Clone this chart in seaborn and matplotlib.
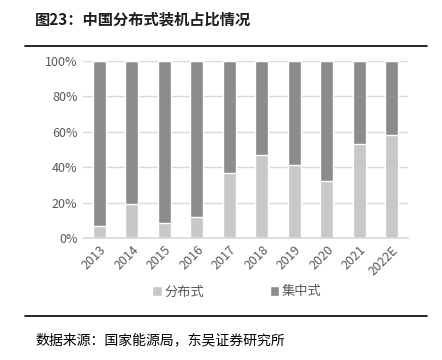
import matplotlib
matplotlib.use("Agg")
import matplotlib.pyplot as plt
import seaborn as sns
import pandas as pd
from matplotlib.patches import Patch
from matplotlib.lines import Line2D

years = ["2013", "2014", "2015", "2016", "2017", "2018", "2019", "2020", "2021", "2022E"]
distributed = [0.07, 0.19, 0.087, 0.12, 0.37, 0.47, 0.41, 0.32, 0.533, 0.58]
centralized = [1 - v for v in distributed]

sns.set_theme(style="white")
plt.rcParams['font.family'] = ['Noto Sans CJK SC', 'DejaVu Sans']

df = pd.DataFrame({"year": years, "dist": distributed, "cent": centralized})
df["total"] = df["dist"] + df["cent"]

fig = plt.figure(figsize=(4.42, 3.6), dpi=100)
ax = fig.add_axes([83/442, 1-238/360, 325/442, (238-61)/360])

light = "#C8C8C8"
dark = "#8C8C8C"
sns.barplot(data=df, x="year", y="total", color=dark, width=0.4, ax=ax, saturation=1)
sns.barplot(data=df, x="year", y="dist", color=light, width=0.4, ax=ax, saturation=1)

ax.set_ylim(0, 1)
ax.set_xlim(-0.5, len(years) - 0.5)
ax.set_yticks([0, 0.2, 0.4, 0.6, 0.8, 1.0])
ax.set_yticklabels(["0%", "20%", "40%", "60%", "80%", "100%"], color="#595959", fontsize=9)
ax.set_xticks(range(len(years)))
ax.set_xticklabels(years, rotation=45, ha="right", rotation_mode="anchor", color="#595959", fontsize=9)
ax.tick_params(axis="both", length=0, pad=4)
ax.yaxis.grid(True, color="#D9D9D9", linewidth=1)
ax.set_axisbelow(True)
for s in ["top", "right", "left"]:
    ax.spines[s].set_visible(False)
ax.spines["bottom"].set_color("#D9D9D9")
ax.set_xlabel("")
ax.set_ylabel("")

handles = [Patch(facecolor=light, label="分布式"), Patch(facecolor=dark, label="集中式")]
fig.legend(handles=handles, loc="center", bbox_to_anchor=(237/442, 1-292/360), ncol=2,
           frameon=False, fontsize=9.5, handlelength=0.7, handleheight=0.7,
           handletextpad=0.2, columnspacing=5, labelcolor="#595959")

fig.text(35/442, 1-20/360, "图23：中国分布式装机占比情况", fontsize=11, fontweight="bold",
         color="#1F1F1F", va="center", ha="left")
fig.add_artist(Line2D([25/442, 427/442], [1-46/360, 1-46/360], color="black", linewidth=1.2))
fig.add_artist(Line2D([25/442, 427/442], [1-316/360, 1-316/360], color="black", linewidth=1.2))
fig.text(35/442, 1-340/360, "数据来源：国家能源局，东吴证券研究所", fontsize=10,
         color="black", va="center", ha="left")

fig.savefig("out.png", dpi=100)
